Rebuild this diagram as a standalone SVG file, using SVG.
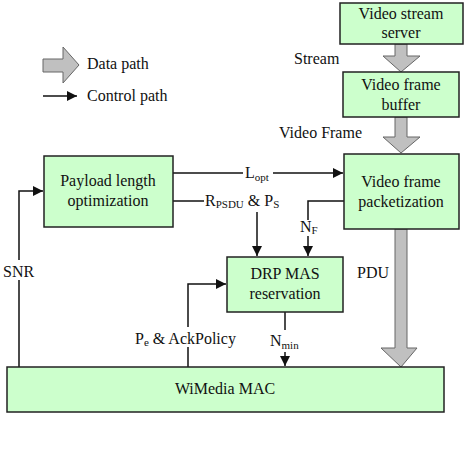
<svg xmlns="http://www.w3.org/2000/svg" width="465" height="454" viewBox="0 0 465 454" font-family="'Liberation Serif', 'Times New Roman', Times, 'DejaVu Serif', serif">
<style>
.box{fill:#ccffcc;stroke:#222;stroke-width:1.5}
.t{font-family:'Liberation Serif','Times New Roman',Times,'DejaVu Serif',serif;font-size:16px;fill:#111}
.c{text-anchor:middle}
.s{font-size:11px}
.ln{fill:none;stroke:#111;stroke-width:1.5}
.da{fill:#c0c0c0;stroke:#666;stroke-width:1}
.bg{fill:#fff}
</style>
<defs>
<marker id="ah" viewBox="0 0 10 10" refX="10" refY="5" markerWidth="10" markerHeight="10" markerUnits="userSpaceOnUse" orient="auto"><path d="M0,0 L10,5 L0,10 z" fill="#111"/></marker>
</defs>
<g id="legend">
<path class="da" d="M43,59 H63 V47 L79,65 L63,83 V72 H43 z"/>
<text class="t" x="87" y="69">Data path</text>
<line class="ln" x1="43" y1="96" x2="77" y2="96" marker-end="url(#ah)"/>
<text class="t" x="87" y="101">Control path</text>
</g>
<g id="connectors">
<path class="da" d="M395,44 H407 V56 H420 L401,72 L383,56 H395 z"/>
<path class="da" d="M395,117 H407 V137 H420 L401,153 L383,137 H395 z"/>
<path class="da" d="M395,229 H407 V348 H417 L401,367 L381,348 H395 z"/>
<line class="ln" x1="173" y1="173" x2="343" y2="173" marker-end="url(#ah)"/>
<path class="ln" d="M173,201 H210"/>
<line class="ln" x1="257" y1="212" x2="257" y2="256" marker-end="url(#ah)"/>
<path class="ln" d="M344,201 H308 V220"/>
<line class="ln" x1="308" y1="236" x2="308" y2="256" marker-end="url(#ah)"/>
<path class="ln" d="M188,367 V284 H226" marker-end="url(#ah)"/>
<line class="ln" x1="285" y1="312" x2="285" y2="366" marker-end="url(#ah)"/>
<path class="ln" d="M19,367 V191 H43" marker-end="url(#ah)"/>
<rect class="bg" x="243" y="162" width="30" height="20"/>
<text class="t" x="245" y="178">L<tspan class="s" dy="3">opt</tspan></text>
<rect class="bg" x="204" y="190" width="78" height="20"/>
<text class="t" x="205" y="206">R<tspan class="s" dy="2">PSDU</tspan><tspan dy="-2"> &amp; P</tspan><tspan class="s" dy="2">S</tspan></text>
<text class="t" x="300" y="232">N<tspan class="s" dy="2">F</tspan></text>
<rect class="bg" x="133" y="327" width="108" height="20"/>
<text class="t" x="135" y="344">P<tspan class="s" dy="2">e</tspan><tspan dy="-2"> &amp; AckPolicy</tspan></text>
<rect class="bg" x="269" y="330" width="32" height="22"/>
<text class="t" x="270" y="346">N<tspan class="s" dy="3">min</tspan></text>
<rect class="bg" x="2" y="260" width="34" height="20"/>
<text class="t" x="3" y="277">SNR</text>
<text class="t" x="357" y="278">PDU</text>
<text class="t" x="294" y="64">Stream</text>
<text class="t" x="279" y="138">Video Frame</text>
</g>
<g id="server">
<rect class="box" x="340" y="3" width="123" height="41"/>
<text class="t c" x="401" y="19">Video stream</text>
<text class="t c" x="401" y="38">server</text>
</g>
<g id="buffer">
<rect class="box" x="343" y="72" width="116" height="45"/>
<text class="t c" x="401" y="90">Video frame</text>
<text class="t c" x="401" y="110">buffer</text>
</g>
<g id="packetization">
<rect class="box" x="344" y="154" width="115" height="75"/>
<text class="t c" x="401" y="187">Video frame</text>
<text class="t c" x="401" y="207">packetization</text>
</g>
<g id="payload">
<rect class="box" x="44" y="156" width="129" height="71"/>
<text class="t c" x="108" y="186">Payload length</text>
<text class="t c" x="108" y="206">optimization</text>
</g>
<g id="drp">
<rect class="box" x="227" y="257" width="116" height="55"/>
<text class="t c" x="285" y="279">DRP MAS</text>
<text class="t c" x="285" y="299">reservation</text>
</g>
<g id="mac">
<rect class="box" x="7" y="367" width="437" height="45"/>
<text class="t c" x="225" y="394">WiMedia MAC</text>
</g>
</svg>
